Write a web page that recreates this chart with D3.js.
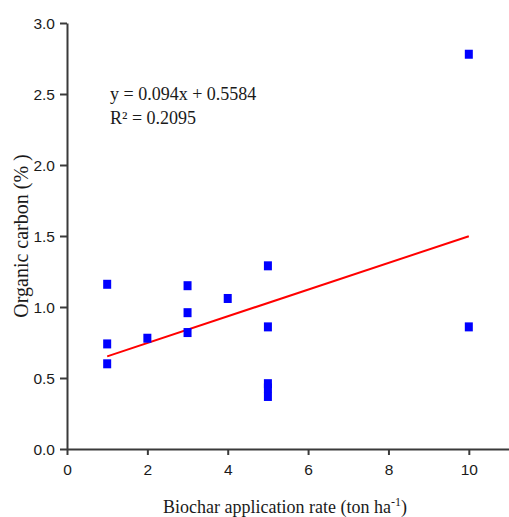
<!DOCTYPE html>
<html>
<head>
<meta charset="utf-8">
<script src="https://cdn.jsdelivr.net/npm/d3@7"></script>
<style>
  body { margin: 0; background: #fff; }
  .tick text { font-family: 'Liberation Sans', Arial, sans-serif; font-size: 15.5px; fill: #1a1a1a; }
  .label { font-family: 'Liberation Serif', 'Times New Roman', serif; font-size: 18px; fill: #1a1a1a; }
</style>
</head>
<body>
<div id="chart"></div>
<script>
// data
const rate = [1, 1, 1, 2, 3, 3, 3, 4, 5, 5, 5, 5, 5, 10, 10];
const carbon = [1.16, 0.74, 0.60, 0.78, 1.15, 0.96, 0.82, 1.06, 1.29, 0.86, 0.46, 0.43, 0.37, 2.78, 0.86];
const fitX = [1, 10];
const slope = 0.094, intercept = 0.5584;
const xTicks = [0, 2, 4, 6, 8, 10];
const yTicks = [0, 0.5, 1, 1.5, 2, 2.5, 3];

const width = 509, height = 517;
const margin = { top: 23, right: 0, bottom: 68, left: 67 };

const svg = d3.select('#chart')
  .append('svg')
  .attr('width', width)
  .attr('height', height);

const x = d3.scaleLinear()
  .domain([0, 11])
  .range([margin.left, width - margin.right]);

const y = d3.scaleLinear()
  .domain([0, 3])
  .range([height - margin.bottom, margin.top]);

const axisColor = '#3a3a3a';

// x axis
const gx = svg.append('g')
  .attr('transform', 'translate(0,' + y(0) + ')')
  .call(d3.axisBottom(x).tickValues(xTicks).tickSize(6).tickPadding(6).tickSizeOuter(0).tickFormat(d3.format('d')));

// y axis
const gy = svg.append('g')
  .attr('transform', 'translate(' + x(0) + ',0)')
  .call(d3.axisLeft(y).tickValues(yTicks).tickSize(7).tickPadding(5).tickSizeOuter(0).tickFormat(d3.format('.1f')));

[gx, gy].forEach(g => {
  g.select('.domain').attr('stroke', axisColor).attr('stroke-width', 2);
  g.selectAll('.tick line').attr('stroke', axisColor).attr('stroke-width', 2);
});
gx.selectAll('.tick text').attr('dy', '0.9em');
gy.selectAll('.tick text').attr('dy', '0.35em');

// trend line
svg.append('line')
  .attr('x1', x(fitX[0]))
  .attr('y1', y(slope * fitX[0] + intercept))
  .attr('x2', x(fitX[1]))
  .attr('y2', y(slope * fitX[1] + intercept))
  .attr('stroke', '#ff0000')
  .attr('stroke-width', 2);

// points
const sw = 8, sh = 9;
svg.selectAll('rect.pt')
  .data(rate.map((r, i) => ({ r: r, c: carbon[i] })))
  .enter()
  .append('rect')
  .attr('class', 'pt')
  .attr('x', d => x(d.r) - sw / 2)
  .attr('y', d => y(d.c) - sh / 2)
  .attr('width', sw)
  .attr('height', sh)
  .attr('fill', '#0000ff');

// equation
svg.append('text')
  .attr('class', 'label')
  .attr('x', 110)
  .attr('y', 100)
  .text('y = 0.094x + 0.5584');

svg.append('text')
  .attr('class', 'label')
  .attr('x', 110)
  .attr('y', 124)
  .text('R² = 0.2095');

// axis titles
const xt = svg.append('text')
  .attr('class', 'label')
  .attr('x', 285)
  .attr('y', 513)
  .attr('text-anchor', 'middle');
xt.append('tspan').text('Biochar application rate (ton ha');
xt.append('tspan').attr('dy', -7).style('font-size', '12px').text('-1');
xt.append('tspan').attr('dy', 7).text(')');

svg.append('text')
  .attr('class', 'label')
  .style('font-size', '20px')
  .attr('transform', 'translate(28,' + 236 + ') rotate(-90)')
  .attr('text-anchor', 'middle')
  .text('Organic carbon (% )');
</script>
</body>
</html>
